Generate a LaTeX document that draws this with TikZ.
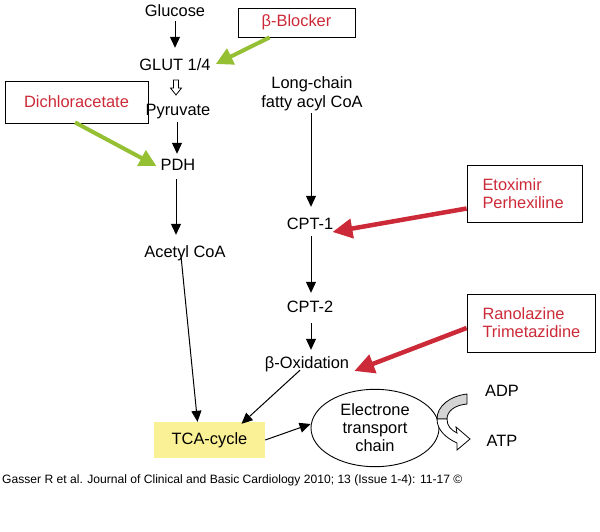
\documentclass[tikz,border=0pt]{standalone}
\usepackage{fontspec}
\setmainfont{Liberation Sans}
\usetikzlibrary{arrows.meta,shapes.geometric}

\definecolor{drugred}{RGB}{204,42,56}
\definecolor{druggreen}{RGB}{150,192,52}
\definecolor{tcayellow}{RGB}{250,240,150}
\definecolor{adpgrey}{RGB}{212,212,212}

\tikzset{
  lbl/.style={inner sep=2pt, text height=11pt, text depth=3pt, font=\fontsize{16.4}{18}\selectfont},
  drug/.style={draw, line width=0.8pt, text=drugred, font=\fontsize{16.4}{18}\selectfont},
  blk/.style={-{Triangle[length=11pt,width=10pt]}, line width=1pt},
  grn/.style={-{Triangle[length=17pt,width=17pt]}, line width=4pt, druggreen},
  redarr/.style={-{Triangle[length=20pt,width=19pt]}, line width=4.5pt, drugred}
}

\begin{document}
\begin{tikzpicture}[x=1pt,y=-1pt]
  \useasboundingbox[fill=white] (0,0) rectangle (600,531);

  % glucose branch
  \node[lbl] (glucose) at (175,12) {Glucose};
  \node[lbl] (glut) at (175,66) {GLUT 1/4};
  \node[lbl] (pyruvate) at (178,111) {Pyruvate};
  \node[lbl] (pdh) at (178,166) {PDH};
  \node[lbl] (acetyl) at (185,253) {Acetyl CoA};

  % fatty acid branch
  \node[lbl, align=center, font=\fontsize{16.4}{19}\selectfont] (fatty) at (312,103) {Long-chain\\fatty acyl CoA};
  \node[lbl] (cpt1) at (310,225) {CPT-1};
  \node[lbl] (cpt2) at (310,308) {CPT-2};
  \node[lbl] (betaox) at (307,364) {β-Oxidation};

  % drugs
  \node[drug, minimum width=117pt, minimum height=29pt] (bblock) at (296.5,22.5) {β-Blocker};
  \node[drug, minimum width=143pt, minimum height=42pt] (dca) at (76.5,102) {Dichloracetate};
  \node[drug, minimum width=115pt, minimum height=57pt, align=left, text width=84pt] (etox) at (524.5,193.5) {Etoximir\\Perhexiline};
  \node[drug, minimum width=128pt, minimum height=58pt, align=left, text width=97pt] (rano) at (531,323) {Ranolazine\\Trimetazidine};

  % energy
  \node[fill=tcayellow, minimum width=111pt, minimum height=36pt, lbl] (tca) at (209.5,440) {TCA-cycle};
  \node[draw, ellipse, line width=0.9pt, minimum width=128pt, minimum height=70pt, align=center,
        font=\fontsize{16.4}{18}\selectfont] (etc) at (375,428) {Electrone\\transport\\chain};
  \node[lbl] (adp) at (502,392) {ADP};
  \node[lbl] (atp) at (502,442) {ATP};

  % pathway arrows
  \draw[blk, shorten >=9pt] (glucose) -- (glut);
  \coordinate (hol) at (176,80);
  \draw[line width=0.8pt, fill=white] (hol) ++(-2.5,0) -- ++(5,0) -- ++(0,8) -- ++(3,0)
        -- (176,95) -- (170.5,88) -- ++(3,0) -- cycle;
  \draw[blk, shorten <=2pt, shorten >=3pt] (pyruvate.south -| 177,0) -- (pdh.north -| 177,0);
  \draw[blk, shorten <=4pt, shorten >=9pt] (pdh.south -| 176,0) -- (acetyl.north -| 176,0);
  \draw[blk, shorten <=1pt, shorten >=9pt] (fatty.south -| 311,0) -- (cpt1.north -| 311,0);
  \draw[blk, shorten <=2pt, shorten >=6pt] (cpt1.south -| 311,0) -- (cpt2.north -| 311,0);
  \draw[blk, shorten <=6pt, shorten >=5pt] (cpt2.south -| 311,0) -- (betaox.north -| 311,0);
  \draw[blk] ([xshift=-4pt,yshift=6pt]acetyl.south) -- ([xshift=-12pt]tca.north);
  \draw[blk] ([xshift=-7pt,yshift=3pt]betaox.south) -- ([xshift=32pt,yshift=-2pt]tca.north);
  \draw[blk] (tca.east) -- (etc.west |- 0,424);

  % drug arrows
  \draw[grn] ([xshift=32pt]bblock.south west) -- ([xshift=3pt,yshift=2pt]glut.east);
  \draw[grn] ([xshift=-1.5pt,yshift=1pt]dca.south) -- ([xshift=-2pt]pdh.west);
  \draw[redarr] ([yshift=-15pt]etox.west) -- ([xshift=-3pt,yshift=-7pt]cpt1.east);
  \draw[redarr] ([yshift=-5pt]rano.west) -- ([xshift=3pt,yshift=-7pt]betaox.east);

  % ADP -> ATP
  \draw[line width=0.8pt, fill=adpgrey] (467,394) .. controls (450,396) and (437,406) .. (437,419)
        -- (447,419) .. controls (447,411) and (455,405) .. (467,404) -- cycle;
  \draw[line width=0.8pt, fill=white] (437,419) .. controls (437,430) and (446,438) .. (457,443)
        -- (457,450) -- (470,439) -- (456,427) -- (457,433)
        .. controls (451,430) and (447,426) .. (447,419) -- cycle;

  % source
  \node[anchor=west, inner sep=0pt, font=\fontsize{12.1}{14}\selectfont] (src) at (2,480)
        {Gasser R et al. Journal of Clinical and Basic Cardiology 2010; 13 (Issue 1-4): 11-17 \textcopyright};
\end{tikzpicture}
\end{document}
